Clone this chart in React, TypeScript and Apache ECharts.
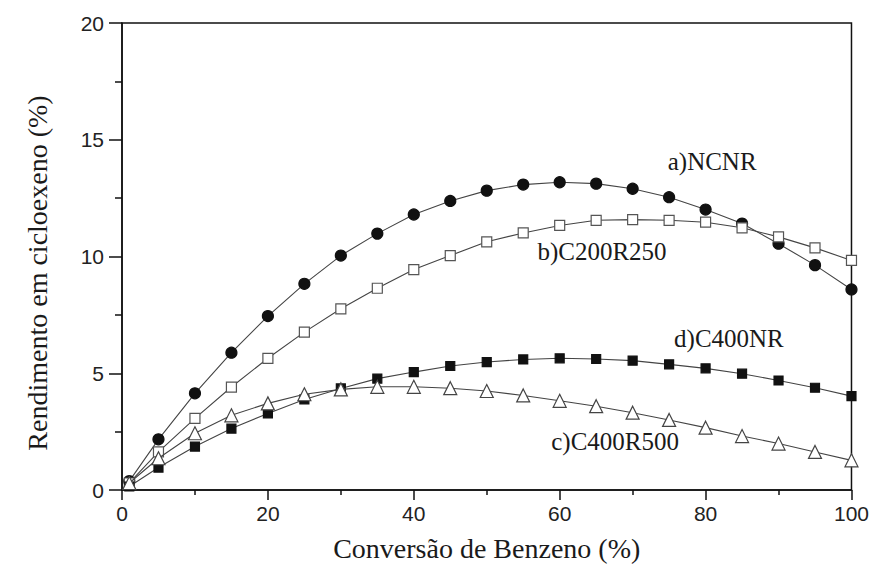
import React, { useEffect, useRef } from "react";
import * as echarts from "echarts";

const conversion = [1, 5, 10, 15, 20, 25, 30, 35, 40, 45, 50, 55, 60, 65, 70, 75, 80, 85, 90, 95, 100];

const ncnr = [0.38, 2.17, 4.14, 5.88, 7.45, 8.83, 10.04, 10.98, 11.8, 12.38, 12.82, 13.08, 13.18, 13.12, 12.9, 12.54, 12.01, 11.41, 10.55, 9.63, 8.59];
const c200r250 = [0.3, 1.63, 3.07, 4.41, 5.64, 6.76, 7.76, 8.64, 9.44, 10.04, 10.63, 11.01, 11.33, 11.55, 11.58, 11.55, 11.47, 11.23, 10.84, 10.37, 9.83];
const c400nr = [0.15, 0.96, 1.86, 2.63, 3.28, 3.88, 4.35, 4.77, 5.05, 5.31, 5.48, 5.59, 5.64, 5.61, 5.54, 5.38, 5.21, 4.98, 4.69, 4.38, 4.02];
const c400r500 = [0.3, 1.36, 2.43, 3.2, 3.71, 4.1, 4.31, 4.42, 4.42, 4.36, 4.24, 4.05, 3.82, 3.59, 3.31, 3.0, 2.67, 2.31, 1.99, 1.63, 1.27];

const seriesNames = ["a)NCNR", "b)C200R250", "d)C400NR", "c)C400R500"];
const labelCoords: [number, number][] = [
  [80.9, 14.06],
  [65.8, 10.21],
  [83.2, 6.5],
  [67.6, 2.09],
];

const xTitle = "Conversão de Benzeno (%)";
const yTitle = "Rendimento em cicloexeno (%)";

const pair = (ys: number[]) => conversion.map((x, i) => [x, ys[i]]);

export default function App() {
  const ref = useRef<HTMLDivElement>(null);
  useEffect(() => {
    if (!ref.current) return;
    const chart = echarts.init(ref.current, null, { renderer: "svg" });
    const serif = "'Liberation Serif', 'Times New Roman', serif";
    const sans = "'Liberation Sans', Arial, sans-serif";
    const lineColor = "#444";
    const mk = (i: number) => ({
      symbol: "rect",
      symbolSize: 1,
      itemStyle: { color: "rgba(0,0,0,0)" },
      label: {
        show: true,
        position: "inside",
        formatter: seriesNames[i],
        color: "#1a1a1a",
        fontFamily: serif,
        fontSize: 25,
      },
      data: [{ coord: labelCoords[i] }],
    });
    const datasets = [ncnr, c200r250, c400nr, c400r500];
    const symbols = ["circle", "rect", "rect", "triangle"];
    const sizes = [11, 10, 9, 13];
    const fills = ["#111", "#fff", "#111", "#fff"];
    const borders = ["#111", "#555", "#111", "#444"];
    const series = datasets.map((d, i) => ({
      type: "line",
      name: seriesNames[i],
      data: pair(d),
      symbol: symbols[i],
      symbolSize: sizes[i],
      showAllSymbol: true,
      lineStyle: { color: lineColor, width: 1.1 },
      itemStyle: { color: fills[i], borderColor: borders[i], borderWidth: 1.2 },
      z: 2 + i,
      markPoint: mk(i),
    }));
    chart.setOption({
      animation: false,
      backgroundColor: "#fff",
      grid: {
        left: 122,
        right: 19,
        top: 23,
        bottom: 75,
        show: true,
        borderColor: "#111",
        borderWidth: 1.5,
        backgroundColor: "transparent",
      },
      xAxis: {
        type: "value",
        min: 0,
        max: 100,
        interval: 20,
        name: xTitle,
        nameLocation: "middle",
        nameGap: 44,
        nameTextStyle: { fontFamily: serif, fontSize: 28, color: "#1a1a1a" },
        axisLine: { show: true, lineStyle: { color: "#111", width: 1.5 } },
        axisTick: { show: true, inside: false, length: 10, lineStyle: { color: "#111", width: 1.5 } },
        minorTick: { show: true, splitNumber: 2, length: 5, lineStyle: { color: "#111", width: 1.5 } },
        splitLine: { show: false },
        axisLabel: { margin: 13, fontFamily: sans, fontSize: 21, color: "#222" },
      },
      yAxis: {
        type: "value",
        min: 0,
        max: 20,
        interval: 5,
        axisLine: { show: true, lineStyle: { color: "#111", width: 1.5 } },
        axisTick: { show: true, inside: false, length: 13, lineStyle: { color: "#111", width: 1.5 } },
        minorTick: { show: true, splitNumber: 2, length: 7, lineStyle: { color: "#111", width: 1.5 } },
        splitLine: { show: false },
        axisLabel: { margin: 18, fontFamily: sans, fontSize: 21, color: "#222" },
      },
      graphic: [
        {
          type: "text",
          x: 37,
          y: 273,
          rotation: Math.PI / 2,
          style: {
            text: yTitle,
            fontFamily: serif,
            fontSize: 28,
            fill: "#1a1a1a",
            textAlign: "center",
            textVerticalAlign: "middle",
          },
        },
      ],
      series,
    });
    return () => chart.dispose();
  }, []);
  return (
    <div
      ref={ref}
      style={{ position: "fixed", left: 0, top: 0, width: 872, height: 567 }}
    />
  );
}
